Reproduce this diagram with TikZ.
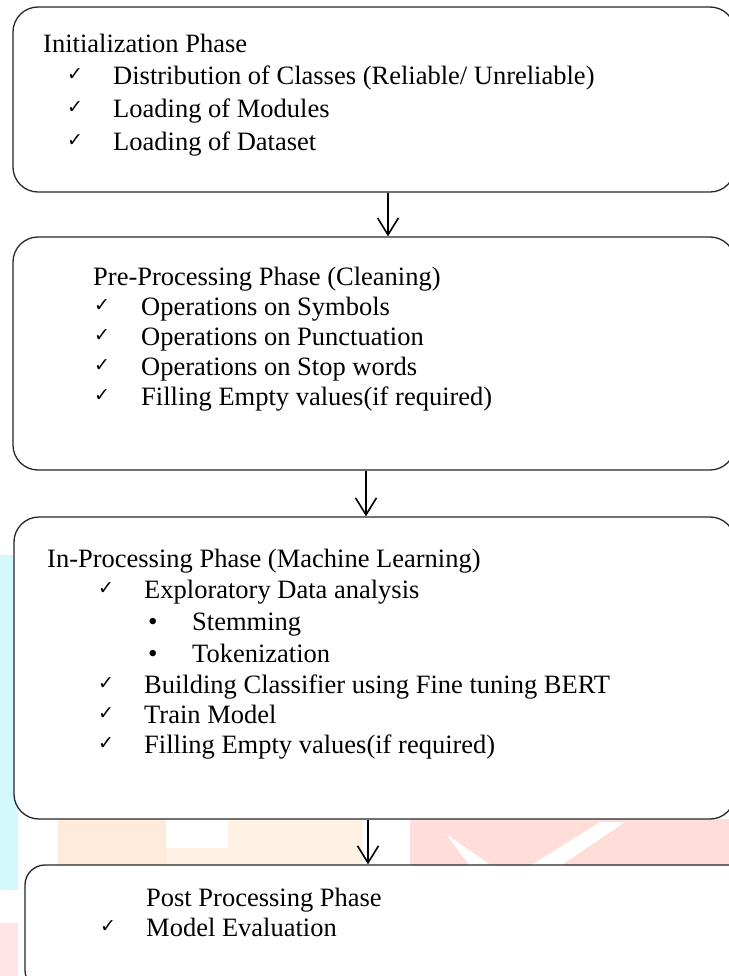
\documentclass[tikz,border=0pt]{standalone}
\usepackage{fontspec}
\setmainfont{Liberation Serif}
\newfontfamily\symfont{DejaVu Sans}
\usetikzlibrary{arrows.meta}

\definecolor{wmcyan}{RGB}{212,248,252}
\definecolor{wmpeach}{RGB}{255,235,217}
\definecolor{wmpeachlt}{RGB}{255,242,228}
\definecolor{wmpink}{RGB}{255,221,216}
\definecolor{wmpinklt}{RGB}{255,229,229}

\tikzset{
  phasebox/.style={draw=black!85, line width=1.3bp, fill=white,
    rounded corners=25bp, inner sep=0pt},
  flowarrow/.style={line width=1.6bp,
    -{Straight Barb[length=17bp,width=21bp,line width=1.6bp]}},
  txt/.style={anchor=base west, inner sep=0pt,
    font=\fontsize{26.5bp}{30bp}\selectfont},
  tick/.style={anchor=base west, inner sep=0pt, yshift=4bp,
    font=\symfont\fontsize{19bp}{22bp}\selectfont},
  dot/.style={anchor=base west, inner sep=0pt,
    font=\fontsize{27bp}{30bp}\selectfont},
}

\begin{document}
\begin{tikzpicture}[x=1bp, y=-1bp]
\useasboundingbox (0,0) rectangle (729,976);
\clip (0,0) rectangle (729,976);

% faint background marks
\fill[wmcyan] (0,555) rectangle (18,890);
\fill[wmpinklt] (0,923) rectangle (18,976);
\fill[wmpeach] (58,819) rectangle (166,866);
\fill[wmpeachlt] (166,848) rectangle (228,866);
\fill[wmpeachlt] (228,819) rectangle (362,866);
\fill[wmpink] (410,819) rectangle (729,866);
\fill[white] (446,834) -- (492,866) -- (470,866) -- cycle;
\fill[white] (530,866) -- (600,822) -- (625,822) -- (560,866) -- cycle;

% phase boxes
\node[phasebox, minimum width=722bp, minimum height=185bp] (init) at (374,99.5) {};
\node[phasebox, minimum width=722bp, minimum height=233bp] (pre) at (374,353.5) {};
\node[phasebox, minimum width=721bp, minimum height=302bp] (inproc) at (374.5,668) {};
\node[phasebox, rounded corners=20bp, minimum width=735bp, minimum height=125bp] (post) at (392.5,927.5) {};

% connectors
\coordinate (a1) at (388,0);
\coordinate (a2) at (366,0);
\coordinate (a3) at (368,0);
\draw[flowarrow] (init.south -| a1) -- (pre.north -| a1);
\draw[flowarrow] (pre.south -| a2) -- (inproc.north -| a2);
\draw[flowarrow] (inproc.south -| a3) -- (post.north -| a3);

% initialization phase
\node[txt] (t1) at (43,52) {Initialization Phase};
\node[tick] (c11) at (67,84) {✓};
\node[txt] (i11) at (113,84) {Distribution of Classes (Reliable/ Unreliable)};
\node[tick] (c12) at (67,117) {✓};
\node[txt] (i12) at (113,117) {Loading of Modules};
\node[tick] (c13) at (67,150) {✓};
\node[txt] (i13) at (113,150) {Loading of Dataset};

% pre-processing phase
\node[txt] (t2) at (93,285) {Pre-Processing Phase (Cleaning)};
\node[tick] (c21) at (94,315) {✓};
\node[txt] (i21) at (141,315) {Operations on Symbols};
\node[tick] (c22) at (94,345) {✓};
\node[txt] (i22) at (141,345) {Operations on Punctuation};
\node[tick] (c23) at (94,375) {✓};
\node[txt] (i23) at (141,375) {Operations on Stop words};
\node[tick] (c24) at (94,405) {✓};
\node[txt] (i24) at (141,405) {Filling Empty values(if required)};

% in-processing phase
\node[txt] (t3) at (47,567) {In-Processing Phase (Machine Learning)};
\node[tick] (c31) at (98,598) {✓};
\node[txt] (i31) at (144,598) {Exploratory Data analysis};
\node[dot] (b31) at (148,630) {•};
\node[txt] (s31) at (192,630) {Stemming};
\node[dot] (b32) at (148,662) {•};
\node[txt] (s32) at (192,662) {Tokenization};
\node[tick] (c32) at (98,693) {✓};
\node[txt] (i32) at (144,693) {Building Classifier using Fine tuning BERT};
\node[tick] (c33) at (98,723) {✓};
\node[txt] (i33) at (144,723) {Train Model};
\node[tick] (c34) at (98,753) {✓};
\node[txt] (i34) at (144,753) {Filling Empty values(if required)};

% post-processing phase
\node[txt] (t4) at (146,906) {Post Processing Phase};
\node[tick] (c41) at (100,936) {✓};
\node[txt] (i41) at (146,936) {Model Evaluation};
\end{tikzpicture}
\end{document}
